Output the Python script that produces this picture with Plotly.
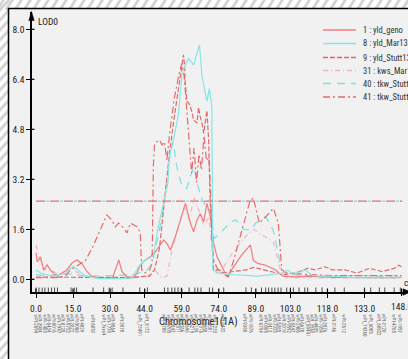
import plotly.graph_objects as go

# ---------------- data ----------------
series_names = ["1 : yld_geno", "8 : yld_Mar13", "9 : yld_Stutt13",
                "31 : kws_Mar13", "40 : tkw_Stutt12", "41 : tkw_Stutt13"]

x_yld_geno = [0, 0.5, 1.8, 3.1, 4.5, 5.8, 7.1, 8.5, 10.5, 12.5, 14.6, 16.6, 18.6, 20.6, 22.7, 25, 28, 31,
              33.5, 34.8, 37, 39.4, 40.9, 42.2, 44, 46.3, 48.3, 51.7, 53.0, 54.4, 56.4, 58.4, 60.5, 62.5,
              63.8, 65.2, 66.5, 67.9, 69.2, 70.6, 71.9, 73.3, 74.6, 77.3, 80, 83, 86.8, 88, 90, 93, 97,
              100, 105, 110, 120, 130, 140, 148]
y_yld_geno = [0.85, 0.56, 0.72, 0.3, 0.46, 0.3, 0.19, 0.1, 0.2, 0.3, 0.52, 0.62, 0.5, 0.25, 0.08, 0.05, 0.04, 0.05,
              0.62, 0.25, 0.05, 0.05, 0.2, 0.45, 0.6, 0.72, 0.88, 1.26, 1.15, 0.94, 1.36, 1.9, 2.43, 1.8,
              1.52, 1.9, 2.1, 1.84, 2.43, 2.0, 1.15, 0.72, 0.5, 0.08, 0.4, 0.75, 1.1, 0.6, 0.5, 0.45, 0.3,
              0.1, 0.08, 0.1, 0.06, 0.05, 0.05, 0.06]

x_yld_mar13 = [0, 2, 4, 8, 12, 15, 17, 20, 25, 30, 38, 40, 42, 44, 46, 47.5, 49.5, 52, 53.4, 54.0, 55.7, 57.7,
               59.1, 61.8, 63.8, 66.2, 67.2, 69.2, 70.2, 71.2, 71.6, 74, 80, 90, 100, 102, 104, 109, 112,
               115, 120, 130, 140, 148]
y_yld_mar13 = [0.3, 0.2, 0.15, 0.1, 0.2, 0.42, 0.3, 0.1, 0.03, 0.02, 0.03, 0.2, 0.45, 0.6, 0.68, 0.75, 1.68, 2.64,
               3.07, 3.97, 4.46, 5.3, 6.6, 7.08, 6.86, 7.5, 6.5, 5.7, 6.1, 5.5, 0.3, 0.2, 0.15, 0.1, 0.2,
               0.3, 0.15, 0.3, 0.12, 0.1, 0.1, 0.05, 0.05, 0.05]

x_yld_stutt13 = [0, 10, 20, 30, 40, 44, 46, 48, 50, 52, 54, 56, 58.4, 59.7, 60.1, 60.4, 61.1, 62.2, 63.1,
                 63.8, 65.2, 65.8, 66.5, 67.2, 67.9, 69.2, 69.9, 70.5, 71.2, 71.9, 74, 76, 80, 85, 88, 90,
                 95, 100, 105, 110, 113, 117, 120, 125, 130, 135, 140, 145, 147, 148]
y_yld_stutt13 = [0.07, 0.06, 0.07, 0.06, 0.07, 0.08, 0.1, 0.3, 1.0, 2.5, 4.0, 5.2, 6.6, 7.18, 6.9, 6.3, 5.7, 5.6, 5.36,
                 5.1, 5.0, 5.5, 5.2, 5.0, 4.67, 5.4, 4.46, 2.5, 1.47, 0.3, 0.3, 0.2, 0.25, 0.3, 0.38, 0.35,
                 0.25, 0.15, 0.2, 0.35, 0.3, 0.4, 0.3, 0.3, 0.2, 0.35, 0.25, 0.35, 0.45, 0.4]

x_kws_mar13 = [0, 1, 2, 3, 5, 8, 12, 16, 20, 30, 40, 45, 48, 51, 53, 55, 58, 60, 62, 64, 66, 68, 70, 71.5,
               73, 76, 80, 84, 88, 92, 96, 99, 101, 110, 120, 130, 140, 148]
y_kws_mar13 = [1.1, 0.8, 0.5, 0.3, 0.35, 0.2, 0.15, 0.25, 0.1, 0.05, 0.05, 0.1, 0.3, 0.05, 0.1, 0.9, 1.8, 2.3,
               1.9, 2.6, 2.2, 1.7, 2.0, 0.8, 0.2, 0.4, 0.9, 1.3, 1.6, 1.4, 1.2, 0.3, 0.05, 0.05, 0.04, 0.04,
               0.04, 0.04]

x_tkw_stutt12 = [0, 5, 10, 15, 20, 30, 40, 45, 47, 49, 51, 53, 54.5, 55.5, 57, 59, 61, 62.5, 64, 65.5, 67,
                 69, 71, 72, 74.7, 78.7, 81, 84, 87, 89, 93, 96, 99.5, 102, 110, 120, 130, 140, 148]
y_tkw_stutt12 = [0.15, 0.1, 0.2, 0.15, 0.1, 0.12, 0.15, 0.3, 0.5, 1.2, 2.0, 3.2, 4.1, 4.4, 3.6, 3.0, 2.9, 3.3,
                 3.6, 3.0, 2.6, 2.3, 2.2, 1.3, 1.48, 1.84, 1.9, 1.6, 1.58, 1.8, 2.0, 1.58, 0.3, 0.15, 0.12,
                 0.1, 0.12, 0.1, 0.12]

x_tkw_stutt13 = [0, 8, 12, 13.9, 17, 20, 23, 26.7, 28.7, 30.7, 32.1, 33.4, 35.5, 36.8, 38.2, 40.9, 42.2,
                 42.8, 44, 46, 47, 47.5, 48, 50, 51, 52, 53, 54, 56, 58, 59, 60, 61, 62, 63, 64, 65, 66,
                 67, 68, 69, 70, 70.8, 71.4, 72, 74, 77.9, 80, 83, 85, 86.6, 88, 90.4, 93, 96.1, 98.1,
                 99.5, 102, 110, 120, 130, 140, 148]
y_tkw_stutt13 = [0.05, 0.05, 0.1, 0.3, 0.45, 0.6, 1.04, 1.68, 2.06, 1.9, 1.68, 1.8, 1.64, 1.48, 1.8, 1.68, 1.5,
                 0.3, 0.2, 0.3, 0.5, 3.6, 4.35, 4.46, 4.3, 4.4, 3.8, 4.6, 5.8, 6.6, 6.9, 6.5, 5.4, 4.4, 3.4,
                 4.2, 3.1, 4.0, 3.5, 4.6, 3.8, 3.9, 2.6, 1.0, 0.6, 0.25, 0.08, 0.6, 1.5, 2.1, 2.5, 2.6, 1.8,
                 2.0, 2.27, 1.8, 0.3, 0.2, 0.15, 0.12, 0.12, 0.1, 0.12]

threshold_lod = 2.5

x_tick_vals = [0.0, 15.0, 30.0, 44.0, 59.0, 74.0, 89.0, 103.0, 118.0, 133.0, 148.0]
y_tick_vals = [0.0, 1.6, 3.2, 4.8, 6.4, 8.0]

marker_cM = [0.0, 1.2, 2.5, 3.6, 5.0, 6.3, 7.5, 8.7, 14.2, 15.5, 16.4, 23.1, 27.4, 29.6, 30.8, 35.2,
             42.0, 45.1, 52.0, 53.4, 55.0, 56.2, 57.5, 58.8, 62.0, 64.3, 65.5, 66.8, 70.2, 71.5, 76.0,
             85.0, 87.2, 91.3, 93.0, 94.2, 95.5, 96.7, 98.0, 99.2, 101.5, 103.0, 104.2, 106.5, 108.8,
             110.0, 113.3, 115.8, 121.0, 124.8, 133.0, 135.5, 139.0, 141.2, 145.0, 147.5]
marker_names = ["wPt-2694", "wPt-3904", "wPt-1403", "wPt-6434", "wPt-8016", "wPt-7947", "wPt-0128",
                "wPt-9752", "wPt-2872", "wPt-5068", "wPt-4029", "wPt-6853", "wPt_7xxx4", "wPt-1770",
                "wPt-9864", "wPt-3870", "wPt_73491", "wPt_8172", "wPt-4709", "wPt-0705", "wPt-2847",
                "wPt-1011", "wPt-8266", "wPt-3698", "wPt-6219", "wPt-1139", "wPt-9316", "wPt-0650",
                "wPt-4881", "wPt-2233", "wPt-0432", "wPt-9380", "wPt-1876", "wPt-6754", "wPt-0308",
                "wPt-3413", "wPt-7325", "wPt-5385", "wPt-2019", "wPt-9592", "wPt-8347", "wPt-2406",
                "wPt-6670", "wPt_69441", "wPt_3563", "wPt-4905", "wPt-1054", "wPt-3976", "wPt-3146",
                "wPt-2612", "wPt_74360", "wPt_6005", "wPt_68822", "wPt-3120", "wPt-4765", "wPt-1957"]

colors = ["#f27b7b", "#86e6e6", "#e06a6a", "#f2b4c4", "#7fe0e0", "#e66a6a"]
dashes = ["solid", "solid", "5px,2px", "5px,3px,1px,3px", "8px,6px", "7px,3px,2px,3px"]

# ---------------- geometry helpers ----------------
W, H = 408, 359
def X(px):
    return px / W
def Y(py):
    return 1 - py / H

PX0, PXPERCM = 36.0, 2.47
LOD0, PXPERLOD = 279.3, 31.25
def cm_of(px):
    return (px - PX0) / PXPERCM
def lod_of(py):
    return (LOD0 - py) / PXPERLOD

FONT = "Liberation Sans Narrow, Arial Narrow, Roboto Condensed, DejaVu Sans Condensed, sans-serif"

fig = go.Figure()

xs = [x_yld_geno, x_yld_mar13, x_yld_stutt13, x_kws_mar13, x_tkw_stutt12, x_tkw_stutt13]
ys = [y_yld_geno, y_yld_mar13, y_yld_stutt13, y_kws_mar13, y_tkw_stutt12, y_tkw_stutt13]
order = [3, 4, 0, 5, 2, 1]
for i in order:
    fig.add_trace(go.Scatter(x=xs[i], y=ys[i], mode="lines", name=series_names[i],
                             line=dict(color=colors[i], width=1.2, dash=dashes[i]),
                             showlegend=False, hoverinfo="skip"))

# threshold line (red dashes with cyan flecks)
fig.add_trace(go.Scatter(x=[0, 148.3], y=[threshold_lod] * 2, mode="lines",
                         line=dict(color="#e07070", width=1.2, dash="9px,5px"),
                         showlegend=False, hoverinfo="skip"))
fig.add_trace(go.Scatter(x=[0, 148.3], y=[threshold_lod] * 2, mode="lines",
                         line=dict(color="#7fe0e0", width=1.2, dash="0px,10px,3px,1px"),
                         showlegend=False, hoverinfo="skip"))

shapes = []
# hatched frame stripes
for x0 in range(-12, 430, 9):
    shapes.append(dict(type="line", xref="paper", yref="paper", x0=X(x0), y0=Y(10), x1=X(x0 + 7), y1=Y(-1),
                       line=dict(color="#d4d4d4", width=3), layer="below"))
for y0 in range(0, 375, 10):
    shapes.append(dict(type="line", xref="paper", yref="paper", x0=X(-1), y0=Y(y0 + 11), x1=X(9), y1=Y(y0),
                       line=dict(color="#d4d4d4", width=3), layer="below"))
# panel
shapes.append(dict(type="rect", xref="paper", yref="paper", x0=X(8.5), y0=Y(8.5), x1=X(430), y1=Y(380),
                   fillcolor="#f1f1f1", line=dict(color="black", width=1.5), layer="below"))

# inner halves of major ticks
for v in x_tick_vals:
    shapes.append(dict(type="line", xref="x", yref="paper", x0=v, x1=v, y0=Y(292), y1=Y(288.5),
                       line=dict(color="black", width=1.2)))
for v in y_tick_vals:
    shapes.append(dict(type="line", xref="paper", yref="y", x0=X(31.5), x1=X(34.5), y0=v, y1=v,
                       line=dict(color="black", width=1.2)))
# marker ticks
for m in marker_cM:
    shapes.append(dict(type="line", xref="x", yref="paper", x0=m, x1=m, y0=Y(292), y1=Y(287.5),
                       line=dict(color="#222", width=0.8)))
# arrowheads
shapes.append(dict(type="path", xref="paper", yref="paper",
                   path=f"M {X(28.8)} {Y(20.5)} L {X(31.5)} {Y(11.5)} L {X(34.2)} {Y(20.5)} Z",
                   fillcolor="black", line=dict(color="black", width=0.5)))
shapes.append(dict(type="path", xref="paper", yref="paper",
                   path=f"M {X(403)} {Y(288.8)} L {X(411)} {Y(292)} L {X(403)} {Y(295.2)} Z",
                   fillcolor="black", line=dict(color="black", width=0.5)))

# legend samples
legend_y = [30, 43.5, 57.5, 70.5, 83.5, 97]
for i in range(6):
    shapes.append(dict(type="line", xref="paper", yref="paper", x0=X(323), x1=X(356),
                       y0=Y(legend_y[i]), y1=Y(legend_y[i]),
                       line=dict(color=colors[i], width=1.6, dash=dashes[i])))

annotations = []
for i in range(6):
    annotations.append(dict(xref="paper", yref="paper", x=X(361), y=Y(legend_y[i]), text=series_names[i],
                            showarrow=False, xanchor="left", yanchor="middle",
                            font=dict(family=FONT, size=8.5, color="#333")))
annotations.append(dict(xref="paper", yref="paper", x=X(35.5), y=Y(21.5), text="LOD0", showarrow=False,
                        xanchor="left", yanchor="middle", font=dict(family=FONT, size=9.5, color="#222")))
annotations.append(dict(xref="paper", yref="paper", x=X(157), y=Y(321), text="Chromosome1(1A)",
                        showarrow=False, xanchor="left", yanchor="middle",
                        font=dict(family=FONT, size=10.5, color="#222")))
annotations.append(dict(xref="paper", yref="paper", x=X(402), y=Y(282), text="cM", showarrow=False,
                        xanchor="left", yanchor="middle", font=dict(family=FONT, size=9.5, color="#222")))
# last tick label sits at the page edge (clipped like in the source)
annotations.append(dict(xref="x", yref="paper", x=x_tick_vals[-1], y=Y(306), text=f"{x_tick_vals[-1]:.1f}",
                        showarrow=False, xanchor="center", yanchor="middle",
                        font=dict(family=FONT, size=9.5, color="#222")))

# marker names, spread to avoid overlap
lab_px = []
last = -1e9
for m in marker_cM:
    p = PX0 + PXPERCM * m
    p = max(p, last + 4.6)
    lab_px.append(p)
    last = p
for p, name in zip(lab_px, marker_names):
    annotations.append(dict(xref="paper", yref="paper", x=X(p), y=Y(312), text=name, showarrow=False,
                            textangle=90, xanchor="center", yanchor="top",
                            font=dict(family=FONT, size=5, color="#666")))

fig.update_layout(
    width=W, height=H, margin=dict(l=0, r=0, t=0, b=0),
    paper_bgcolor="white", plot_bgcolor="rgba(0,0,0,0)",
    shapes=shapes, annotations=annotations, showlegend=False,
    xaxis=dict(domain=[X(31.5), X(404)], range=[cm_of(31.5), cm_of(404)],
               showgrid=False, zeroline=False, showline=True, linecolor="black", linewidth=1.5,
               ticks="outside", ticklen=4, tickwidth=1.2, tickcolor="black",
               tickvals=x_tick_vals[:-1], ticktext=[f"{v:.1f}" for v in x_tick_vals[:-1]],
               ticklabelstandoff=3,
               tickfont=dict(family=FONT, size=9.5, color="#222")),
    yaxis=dict(domain=[Y(292), Y(12)], range=[lod_of(292), lod_of(12)],
               showgrid=False, zeroline=False, showline=True, linecolor="black", linewidth=1.5,
               ticks="outside", ticklen=3.5, tickwidth=1.2, tickcolor="black",
               tickvals=y_tick_vals, ticktext=[f"{v:.1f}" for v in y_tick_vals],
               tickfont=dict(family=FONT, size=9.5, color="#222")),
)
# outer half of the last x tick (its label is an annotation)
fig.add_shape(type="line", xref="x", yref="paper", x0=x_tick_vals[-1], x1=x_tick_vals[-1],
              y0=Y(292), y1=Y(296), line=dict(color="black", width=1.2))

fig.write_html("out.html", config={"displayModeBar": False},
               post_script="document.body.style.margin='0';document.body.style.overflow='hidden';")
